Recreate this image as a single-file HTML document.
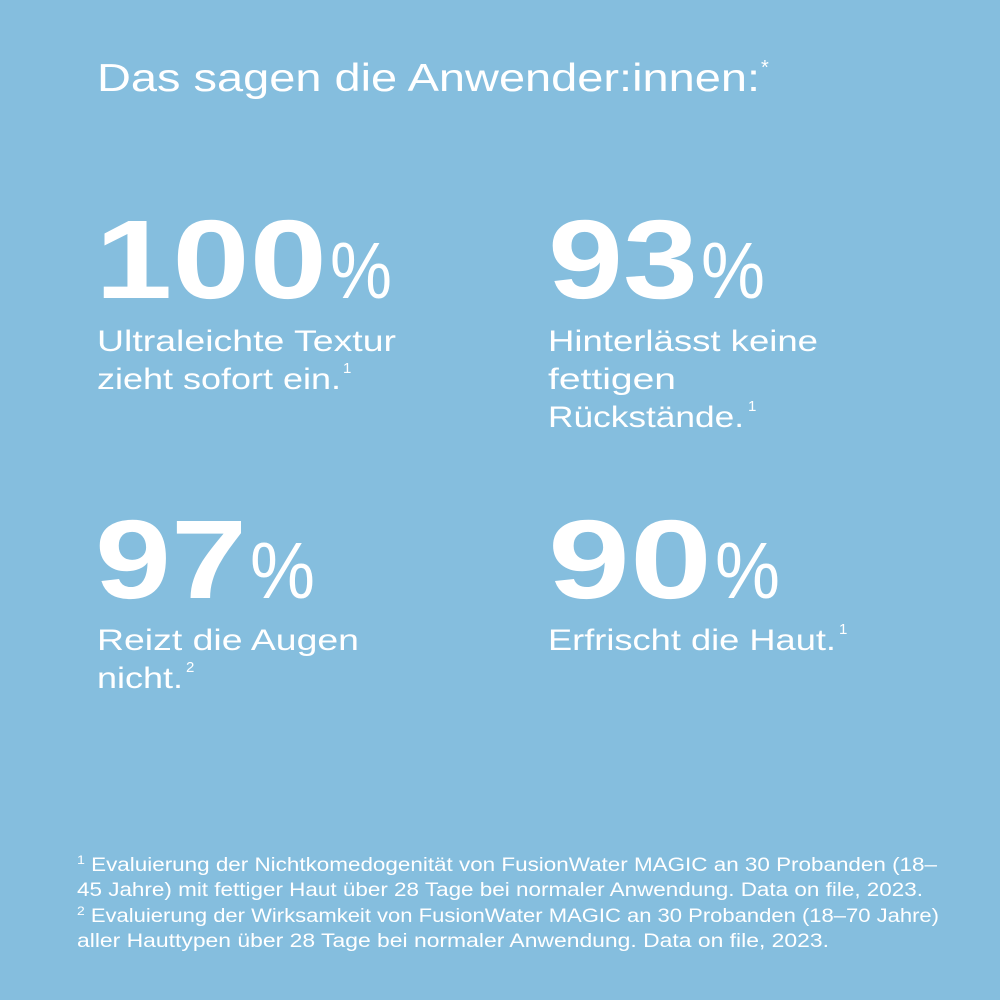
<!DOCTYPE html>
<html><head><meta charset="utf-8"><style>
html,body{margin:0;padding:0;background:#85bede;}
svg{display:block}
text{fill:#fff;font-family:"Liberation Sans",sans-serif;}
</style></head><body>
<svg width="1000" height="1000" viewBox="0 0 1000 1000">
<rect width="1000" height="1000" fill="#85bede"/>
<text x="97" y="91" font-size="39" textLength="663" lengthAdjust="spacingAndGlyphs">Das sagen die Anwender:innen:</text>
<text x="761" y="74" font-size="20">*</text>

<g font-weight="bold" font-size="112">
<text x="95" y="298" textLength="232" lengthAdjust="spacingAndGlyphs">100</text>
<text x="548" y="298" textLength="150" lengthAdjust="spacingAndGlyphs">93</text>
<text x="95" y="598" textLength="152" lengthAdjust="spacingAndGlyphs">97</text>
<text x="548" y="598" textLength="164" lengthAdjust="spacingAndGlyphs">90</text>
</g>
<g font-size="80">
<text x="330" y="298" textLength="62" lengthAdjust="spacingAndGlyphs">%</text>
<text x="701" y="298" textLength="64" lengthAdjust="spacingAndGlyphs">%</text>
<text x="250" y="598" textLength="65" lengthAdjust="spacingAndGlyphs">%</text>
<text x="715" y="598" textLength="65" lengthAdjust="spacingAndGlyphs">%</text>
</g>

<g font-size="30">
<text x="97" y="351" textLength="299" lengthAdjust="spacingAndGlyphs">Ultraleichte Textur</text>
<text x="97" y="389" textLength="244" lengthAdjust="spacingAndGlyphs">zieht sofort ein.</text>
<text x="548" y="351" textLength="270" lengthAdjust="spacingAndGlyphs">Hinterlässt keine</text>
<text x="548" y="389" textLength="128" lengthAdjust="spacingAndGlyphs">fettigen</text>
<text x="548" y="427" textLength="196" lengthAdjust="spacingAndGlyphs">Rückstände.</text>
<text x="97" y="650" textLength="262" lengthAdjust="spacingAndGlyphs">Reizt die Augen</text>
<text x="97" y="688" textLength="86" lengthAdjust="spacingAndGlyphs">nicht.</text>
<text x="548" y="650" textLength="288" lengthAdjust="spacingAndGlyphs">Erfrischt die Haut.</text>
</g>
<g font-size="15">
<text x="343" y="373">1</text>
<text x="748" y="411">1</text>
<text x="186" y="672">2</text>
<text x="839" y="634">1</text>
</g>

<g font-size="19">
<text x="77" y="871" textLength="860" lengthAdjust="spacingAndGlyphs"><tspan font-size="12" dy="-7">1</tspan><tspan dy="7"> Evaluierung der Nichtkomedogenität von FusionWater MAGIC an 30 Probanden (18–</tspan></text>
<text x="77" y="896" textLength="846" lengthAdjust="spacingAndGlyphs">45 Jahre) mit fettiger Haut über 28 Tage bei normaler Anwendung. Data on file, 2023.</text>
<text x="77" y="922" textLength="862" lengthAdjust="spacingAndGlyphs"><tspan font-size="12" dy="-7">2</tspan><tspan dy="7"> Evaluierung der Wirksamkeit von FusionWater MAGIC an 30 Probanden (18–70 Jahre)</tspan></text>
<text x="77" y="947" textLength="752" lengthAdjust="spacingAndGlyphs">aller Hauttypen über 28 Tage bei normaler Anwendung. Data on file, 2023.</text>
</g>
</svg>
</body></html>
